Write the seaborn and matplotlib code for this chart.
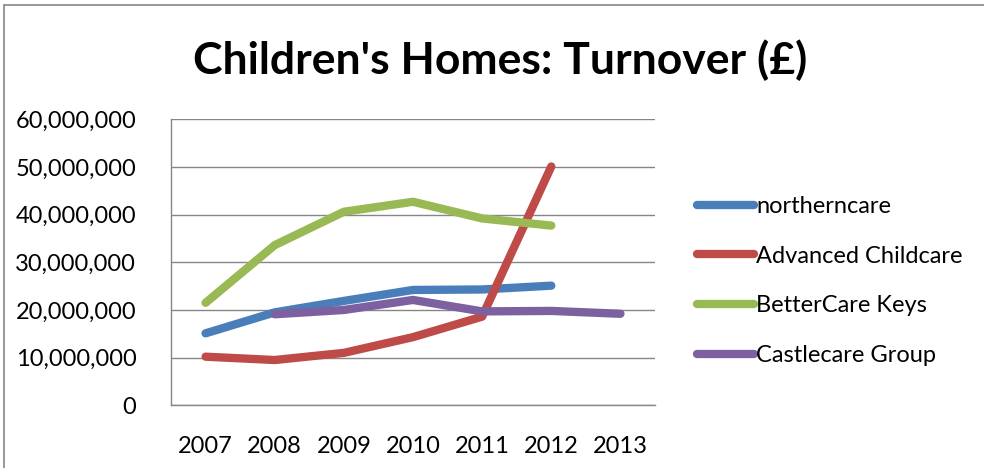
import matplotlib
matplotlib.use("Agg")
import matplotlib.pyplot as plt
import matplotlib.ticker as mticker
from matplotlib.patches import Rectangle
import numpy as np
import pandas as pd
import seaborn as sns

years = [2007, 2008, 2009, 2010, 2011, 2012, 2013]
northerncare = [15.1e6, 19.5e6, 21.9e6, 24.2e6, 24.3e6, 25.1e6, np.nan]
advanced = [10.2e6, 9.5e6, 11.0e6, 14.3e6, 18.6e6, 50.1e6, np.nan]
bettercare = [21.5e6, 33.6e6, 40.6e6, 42.7e6, 39.2e6, 37.7e6, np.nan]
castlecare = [np.nan, 19.1e6, 20.0e6, 22.1e6, 19.7e6, 19.8e6, 19.2e6]
series_names = ["northerncare", "Advanced Childcare", "BetterCare Keys", "Castlecare Group"]
colors = ["#4A7EBB", "#BE4B48", "#98B954", "#7D60A0"]

rows = []
for name, vals in zip(series_names, [northerncare, advanced, bettercare, castlecare]):
    for y, v in zip(years, vals):
        if not np.isnan(v):
            rows.append({"Year": y, "Turnover": v, "Series": name})
df = pd.DataFrame(rows)

sns.set_theme(style="white")
plt.rcParams["font.family"] = ["Lato", "DejaVu Sans"]
plt.rcParams["text.color"] = "black"
plt.rcParams["xtick.color"] = "black"
plt.rcParams["ytick.color"] = "black"

fig = plt.figure(figsize=(9.84, 4.68), dpi=100)
ax = fig.add_axes([171/984, 1 - 405.3/468, (655 - 171)/984, (405.3 - 119.3)/468])

sns.lineplot(data=df, x="Year", y="Turnover", hue="Series", hue_order=series_names,
             palette=colors, linewidth=6, ax=ax, legend=True, sort=True,
             solid_capstyle="round", solid_joinstyle="round")

ax.set_xlim(2006.5, 2013.5)
ax.set_ylim(0, 60e6)
ax.set_yticks(np.arange(0, 60e6 + 1, 10e6))
ax.yaxis.set_major_formatter(mticker.FuncFormatter(lambda v, p: f"{int(v):,}"))
ax.set_xticks(years)
ax.set_xticklabels([str(y) for y in years])
ax.set_xticks(np.arange(2006.5, 2013.6, 1.0), minor=True)
ax.tick_params(axis="x", which="major", length=0, labelsize=17, pad=22, labelcolor="black")
ax.tick_params(axis="x", which="minor", length=7, width=1, color="#868686", direction="out")
ax.tick_params(axis="y", which="major", length=5, width=1, color="#868686",
               labelsize=17, pad=20, direction="out", labelcolor="black")
ax.yaxis.grid(True, color="#868686", linewidth=1)
ax.set_axisbelow(True)
ax.set_xlabel("")
ax.set_ylabel("")
for s in ["top", "right"]:
    ax.spines[s].set_visible(False)
for s in ["left", "bottom"]:
    ax.spines[s].set_color("#868686")
    ax.spines[s].set_linewidth(1)

handles, labels = ax.get_legend_handles_labels()
ax.get_legend().remove()
leg = fig.legend(handles, labels, loc="center left", bbox_to_anchor=(688/984, 1 - 281/468),
                 frameon=False, fontsize=17, handlelength=2.4, handletextpad=0.1,
                 labelspacing=1.22, borderaxespad=0, labelcolor="black")
for h in leg.get_lines():
    h.set_linewidth(6)
    h.set_solid_capstyle("round")

fig.text(500/984, 1 - 60/468, "Children's Homes: Turnover (£)", ha="center", va="center",
         fontsize=32, fontweight="bold", color="black")

fig.patches.append(Rectangle((4/984, -0.1), 1.1, 1 - 5/468 + 0.1, transform=fig.transFigure,
                             fill=False, edgecolor="#868686", linewidth=1.2))

fig.savefig("out.png", dpi=100)
